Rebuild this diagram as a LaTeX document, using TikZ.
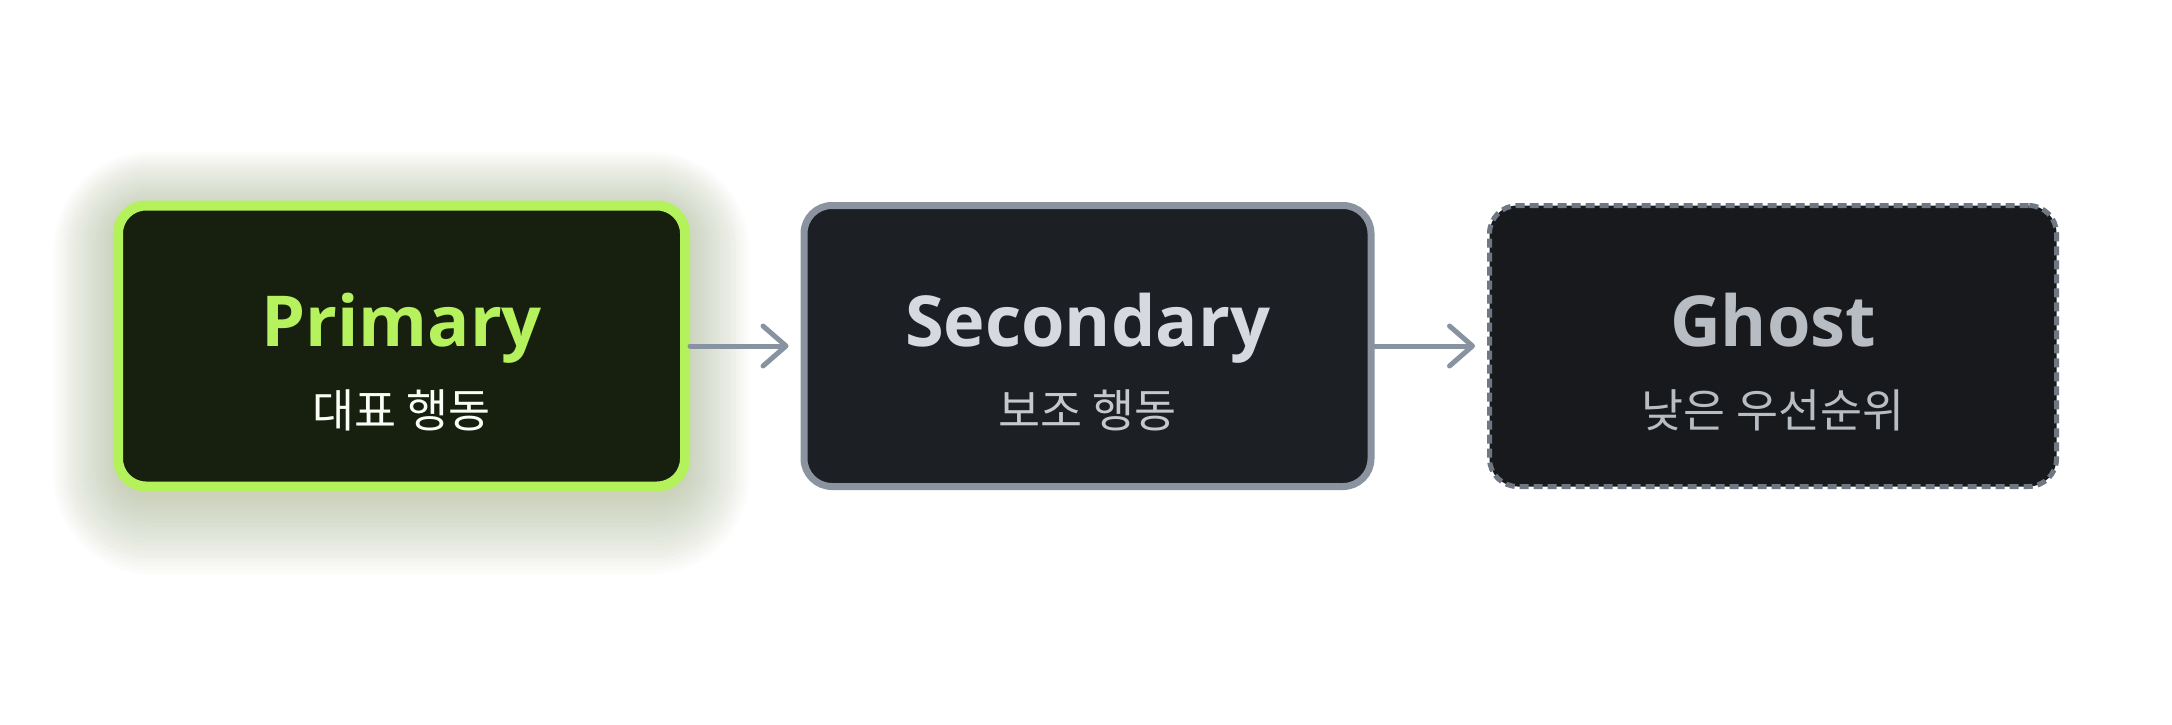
\documentclass[tikz,border=0pt]{standalone}
\usepackage{fontspec}
\usepackage{xcolor}
\usepackage{tikz}
\usetikzlibrary{arrows.meta,positioning}

\newfontfamily\headfont{Open Sans}
\newfontfamily\kofont{Noto Sans CJK KR}

\definecolor{limeline}{HTML}{B4F25C}
\definecolor{limetext}{HTML}{B6F15E}
\definecolor{primfill}{HTML}{17200F}
\definecolor{glowc}{HTML}{8A9C68}
\definecolor{secline}{HTML}{8A939F}
\definecolor{secfill}{HTML}{1C1F24}
\definecolor{sectext}{HTML}{D6DAE0}
\definecolor{ghostline}{HTML}{6F7783}
\definecolor{ghostfill}{HTML}{17191C}
\definecolor{ghosttext}{HTML}{B8BDC4}
\definecolor{arrowc}{HTML}{8793A1}

\begin{document}
\begin{tikzpicture}[box/.style={minimum width=5.67cm, minimum height=2.81cm, inner sep=0pt, rounded corners=0.28cm},
                    prim/.style={box, draw=limeline, fill=primfill, line width=0.1cm},
                    sec/.style={box, draw=secline, fill=secfill, line width=0.07cm},
                    ghost/.style={box, draw=ghostline, fill=ghostfill, line width=0.05cm, dash pattern=on 0.09cm off 0.05cm},
                    title/.style={anchor=base, inner sep=0pt, font=\headfont\bfseries\fontsize{20}{24}\selectfont},
                    sub/.style={anchor=base, inner sep=0pt, font=\kofont\fontsize{13}{16}\selectfont},
                    link/.style={draw=arrowc, line width=0.05cm, line cap=round, shorten >=0.12cm,
                                 -{Straight Barb[length=0.23cm, width=0.4cm, line cap=round, line join=round]}}]
                        \useasboundingbox[fill=white] (0, 0) rectangle (21.72, 7.24);
                        % soft glow behind the primary box
                        \foreach \g in {1,...,20}
                            \fill[glowc, opacity=0.024, rounded corners=0.28cm+\g*0.035cm]
                                (4.015-2.835-\g*0.032, 3.70-1.405-\g*0.04) rectangle (4.015+2.835+\g*0.032, 3.72+1.405+\g*0.03);
                        \node[prim] (prim) at (4.015, 3.78) {};
                        \node[sec] (sec) at (10.875, 3.78) {};
                        \node[ghost] (ghost) at (17.73, 3.78) {};
                        \node[title, text=limetext] (primt) at (prim.center) {Primary};
                        \node[sub, text=white!95!limeline] (prims) at ([yshift=-0.81cm]prim.center) {대표 행동};
                        \node[title, text=sectext] (sect) at (sec.center) {Secondary};
                        \node[sub, text=sectext!92!black] (secs) at ([yshift=-0.81cm]sec.center) {보조 행동};
                        \node[title, text=ghosttext] (ghostt) at (ghost.center) {Ghost};
                        \node[sub, text=ghosttext] (ghosts) at ([yshift=-0.81cm]ghost.center) {낮은 우선순위};
                        \draw [link] (prim) -- (sec);
                        \draw [link] (sec) -- (ghost);
                        \end{tikzpicture}
\end{document}
